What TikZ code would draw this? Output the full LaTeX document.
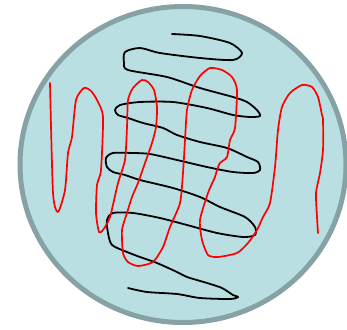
\documentclass[tikz,border=0pt]{standalone}
\usepackage{tikz}
\usetikzlibrary{calc}
\definecolor{cellfill}{RGB}{185, 223, 227}
\definecolor{cellrim}{RGB}{135, 162, 165}
\definecolor{strand}{RGB}{255, 0, 0}

\begin{document}
\begin{tikzpicture}[x=1pt, y=-1pt, line join=round, line cap=round]
    \useasboundingbox (0,0) rectangle (347,329);

    % Nucleus
    \draw[cellrim, fill=cellfill, line width=5pt] (183,164.5) ellipse (163 and 158);

    % Black chromatin
    \draw[black, line width=1.8pt] plot[smooth, tension=0.45] coordinates {
        (172,34) (200,36) (230,43) (242,53) (233,60) (200,58) (160,53)
        (140,48) (125,52) (124,63) (128,70) (167,77) (200,88) (233,97)
        (247,102) (257,110) (260,116) (250,117) (233,115) (207,108)
        (173,102) (140,102) (120,105) (115,110) (118,115) (128,118)
        (143,123) (163,128) (177,135) (200,142) (227,148) (247,157)
        (258,162) (260,170) (253,173) (233,172) (207,167) (177,160)
        (150,154) (133,153) (113,153) (106,158) (107,167) (113,172)
        (125,175) (140,180) (173,188) (200,197) (220,207) (245,217)
        (255,227) (255,235) (243,237) (217,233) (187,225) (160,218)
        (133,213) (113,213) (107,220) (108,233) (112,245) (127,252)
        (140,257) (157,263) (177,272) (187,277) (207,283) (222,288)
        (233,295) (238,297) (230,299) (200,298) (177,294) (147,292)
        (128,288)};

    % Red strand
    \draw[strand, line width=1.7pt] plot[smooth, tension=0.4] coordinates {
        (50,83) (53,193) (58,212) (65,190) (68,153) (72,137) (76,100)
        (84,88) (91,91) (97,100) (103,117) (101,170) (97,185) (96,213)
        (99,232) (103,230) (110,217) (118,183) (125,160) (127,127)
        (128,100) (133,88) (142,80) (148,82) (154,90) (157,107)
        (156,127) (152,143) (145,163) (138,183) (132,197) (127,213)
        (122,230) (123,253) (128,262) (138,266) (153,262) (163,247)
        (170,227) (180,203) (183,173) (185,140) (187,110) (192,90)
        (200,76) (210,68) (222,70) (232,77) (237,90) (235,128)
        (230,140) (227,157) (220,163) (217,170) (215,177) (208,193)
        (200,220) (202,240) (208,255) (218,257) (237,253) (248,243)
        (257,230) (263,217) (270,203) (275,167) (278,130) (282,107)
        (290,93) (302,85) (312,87) (318,97) (322,115) (323,120)
        (323,150) (320,173) (316,193) (317,217) (318,233)};
\end{tikzpicture}
\end{document}
